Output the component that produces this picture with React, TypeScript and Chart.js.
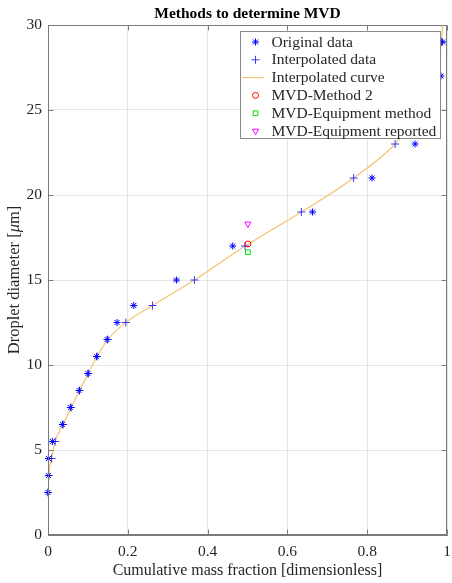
import React, { useEffect, useRef } from 'react';
import { Chart, registerables } from 'chart.js';
import { drawPoint } from 'chart.js/helpers';

Chart.register(...registerables);

// ---- Data ----
const originalX = [0.0, 0.001, 0.001, 0.011, 0.036, 0.056, 0.078, 0.100, 0.122, 0.148, 0.173, 0.215, 0.322, 0.463, 0.663, 0.812, 0.920, 0.962, 0.985, 0.989];
const originalY = [2.5, 3.5, 4.5, 5.5, 6.5, 7.5, 8.5, 9.5, 10.5, 11.5, 12.5, 13.5, 15, 17, 19, 21, 23, 25, 27, 29];

const interpX = [0.0, 0.002, 0.009, 0.018, 0.038, 0.058, 0.079, 0.101, 0.123, 0.150, 0.195, 0.262, 0.367, 0.494, 0.635, 0.766, 0.870, 0.935, 0.972, 0.986];
const interpY = [2.5, 3.5, 4.5, 5.5, 6.5, 7.5, 8.5, 9.5, 10.5, 11.5, 12.5, 13.5, 15, 17, 19, 21, 23, 25, 27, 29];

const curveX = [0.0, 0.002, 0.009, 0.018, 0.038, 0.058, 0.079, 0.101, 0.123, 0.150, 0.195, 0.262, 0.367, 0.494, 0.635, 0.766, 0.870, 0.935, 0.972, 0.986, 0.989];
const curveY = [2.35, 3.5, 4.5, 5.5, 6.5, 7.5, 8.5, 9.5, 10.5, 11.5, 12.5, 13.5, 15, 17, 19, 21, 23, 25, 27, 29, 30];

const mvdX = [0.501];
const method2Y = [17.12];
const equipMethodY = [16.63];
const equipReportedY = [18.3];

const xTickLabels = ['0', '0.2', '0.4', '0.6', '0.8', '1'];
const yTickLabels = ['0', '5', '10', '15', '20', '25', '30'];

const titleText = 'Methods to determine MVD';
const xTitleText = 'Cumulative mass fraction [dimensionless]';
const yTitleParts = ['Droplet diameter [', 'μ', 'm]'];

const legendLabels = [
  'Original data',
  'Interpolated data',
  'Interpolated curve',
  'MVD-Method 2',
  'MVD-Equipment method',
  'MVD-Equipment reported',
];

// ---- Styles ----
const FONT = "'Liberation Serif', 'Times New Roman', serif";
const TEXT = '#262626';
const AXIS = '#7a7a7a';
const GRID = '#e6e6e6';
const BLUE = '#0000ff';
const PLUS = '#3a3aff';
const ORANGE = '#f2c46e';
const RED = '#ff0000';
const GREEN = '#00e000';
const MAGENTA = '#ff00ff';

const pts = (xs: number[], ys: number[]) => xs.map((x, i) => ({ x, y: ys[i] }));

const legendStyles = [
  { kind: 'point', style: 'star', color: BLUE, radius: 3.5, rotation: 0 },
  { kind: 'point', style: 'cross', color: PLUS, radius: 4, rotation: 0 },
  { kind: 'line', style: '', color: ORANGE, radius: 0, rotation: 0 },
  { kind: 'point', style: 'circle', color: RED, radius: 3, rotation: 0 },
  { kind: 'point', style: 'rect', color: GREEN, radius: 3.3, rotation: 0 },
  { kind: 'point', style: 'triangle', color: MAGENTA, radius: 3.6, rotation: 180 },
];

const overlayPlugin = {
  id: 'overlay',
  afterDraw(chart: any) {
    const { ctx, chartArea: a, scales } = chart;
    ctx.save();
    const L = Math.round(a.left) + 0.5;
    const R = Math.round(a.right) - 0.5;
    const T = Math.round(a.top) + 0.5;
    const B = Math.round(a.bottom) - 0.5;

    // inward tick marks on all four sides
    ctx.strokeStyle = AXIS;
    ctx.lineWidth = 1;
    ctx.beginPath();
    scales.x.ticks.forEach((t: any) => {
      const px = Math.round(scales.x.getPixelForValue(t.value)) + 0.5;
      ctx.moveTo(px, B); ctx.lineTo(px, B - 5);
      ctx.moveTo(px, T); ctx.lineTo(px, T + 5);
    });
    scales.y.ticks.forEach((t: any) => {
      const py = Math.round(scales.y.getPixelForValue(t.value)) + 0.5;
      ctx.moveTo(L, py); ctx.lineTo(L + 5, py);
      ctx.moveTo(R, py); ctx.lineTo(R - 5, py);
    });
    ctx.stroke();
    // box
    ctx.strokeRect(L, T, R - L, B - T);

    // title
    ctx.fillStyle = '#000';
    ctx.font = `bold 15.5px ${FONT}`;
    ctx.textAlign = 'center';
    ctx.textBaseline = 'middle';
    ctx.fillText(titleText, (a.left + a.right) / 2, 14);

    // y-axis title with italic mu
    ctx.save();
    ctx.translate(15, (a.top + a.bottom) / 2);
    ctx.rotate(-Math.PI / 2);
    ctx.fillStyle = TEXT;
    ctx.textAlign = 'left';
    ctx.textBaseline = 'middle';
    const fonts = [`16.5px ${FONT}`, `italic 16.5px ${FONT}`, `16.5px ${FONT}`];
    let total = 0;
    const widths = yTitleParts.map((s, i) => { ctx.font = fonts[i]; const w = ctx.measureText(s).width; total += w; return w; });
    let x0 = -total / 2;
    yTitleParts.forEach((s, i) => { ctx.font = fonts[i]; ctx.fillText(s, x0, 0); x0 += widths[i]; });
    ctx.restore();

    // legend
    const bw = 200, bh = 107;
    const bx = Math.round(a.right - 7 - bw) + 0.5;
    const by = Math.round(a.top + 6) + 0.5;
    ctx.fillStyle = '#ffffff';
    ctx.fillRect(bx, by, bw, bh);
    ctx.strokeStyle = '#8a8a8a';
    ctx.lineWidth = 1;
    ctx.strokeRect(bx, by, bw, bh);
    ctx.font = `15.5px ${FONT}`;
    ctx.textAlign = 'left';
    ctx.textBaseline = 'middle';
    legendLabels.forEach((label, i) => {
      const y = by + 10.5 + i * 17.8;
      const st = legendStyles[i];
      if (st.kind === 'line') {
        ctx.strokeStyle = st.color;
        ctx.lineWidth = 1.2;
        ctx.beginPath();
        ctx.moveTo(bx + 2, y);
        ctx.lineTo(bx + 23, y);
        ctx.stroke();
      } else {
        ctx.strokeStyle = st.color;
        ctx.fillStyle = 'rgba(0,0,0,0)';
        ctx.lineWidth = 1;
        drawPoint(ctx, { pointStyle: st.style, radius: st.radius, rotation: st.rotation, borderWidth: 1 } as any, bx + 15, y);
      }
      ctx.fillStyle = TEXT;
      ctx.fillText(label, bx + 31, y + 0.5);
    });
    ctx.restore();
  },
};

export default function App() {
  const ref = useRef<HTMLCanvasElement | null>(null);
  useEffect(() => {
    if (!ref.current) return;
    const chart = new Chart(ref.current, {
      type: 'scatter',
      data: {
        datasets: [
          {
            label: legendLabels[5],
            data: pts(mvdX, equipReportedY),
            pointStyle: 'triangle',
            rotation: 180,
            radius: 3.6,
            borderColor: MAGENTA,
            backgroundColor: 'rgba(0,0,0,0)',
            borderWidth: 1,
            clip: false,
          } as any,
          {
            label: legendLabels[4],
            data: pts(mvdX, equipMethodY),
            pointStyle: 'rect',
            radius: 3.3,
            borderColor: GREEN,
            backgroundColor: 'rgba(0,0,0,0)',
            borderWidth: 1,
            clip: false,
          } as any,
          {
            label: legendLabels[3],
            data: pts(mvdX, method2Y),
            pointStyle: 'circle',
            radius: 3,
            borderColor: RED,
            backgroundColor: 'rgba(0,0,0,0)',
            borderWidth: 1,
            clip: false,
          } as any,
          {
            label: legendLabels[0],
            data: pts(originalX, originalY),
            pointStyle: 'star',
            radius: 3.5,
            borderColor: BLUE,
            backgroundColor: BLUE,
            borderWidth: 1,
            clip: false,
          } as any,
          {
            label: legendLabels[1],
            data: pts(interpX, interpY),
            pointStyle: 'cross',
            radius: 4,
            borderColor: PLUS,
            backgroundColor: PLUS,
            borderWidth: 1,
            clip: false,
          } as any,
          {
            label: legendLabels[2],
            data: pts(curveX, curveY),
            showLine: true,
            pointRadius: 0,
            borderColor: ORANGE,
            borderWidth: 1.2,
            cubicInterpolationMode: 'monotone',
            fill: false,
          } as any,
        ],
      },
      options: {
        responsive: false,
        animation: false,
        events: [],
        layout: { padding: { top: 25, right: 2, left: 0, bottom: 0 } },
        plugins: {
          legend: { display: false },
          title: { display: false },
          tooltip: { enabled: false },
        },
        scales: {
          x: {
            type: 'linear',
            min: 0,
            max: 1,
            ticks: {
              stepSize: 0.2,
              padding: 8,
              color: TEXT,
              font: { family: FONT, size: 15.5 },
              maxRotation: 0,
              callback: (_v: any, i: number) => xTickLabels[i],
            },
            grid: { color: GRID, drawTicks: false },
            border: { display: true, color: AXIS },
            title: {
              display: true,
              text: xTitleText,
              color: TEXT,
              font: { family: FONT, size: 16 },
              padding: { top: 0, bottom: 3 },
            },
            afterFit: (scale: any) => {
              scale.height = 48;
              scale.paddingLeft = 0;
              scale.paddingRight = 0;
            },
          },
          y: {
            type: 'linear',
            min: 0,
            max: 30,
            ticks: {
              stepSize: 5,
              padding: 6,
              color: TEXT,
              font: { family: FONT, size: 15.5 },
              callback: (_v: any, i: number) => yTickLabels[i],
            },
            grid: { color: GRID, drawTicks: false },
            border: { display: true, color: AXIS },
            afterFit: (scale: any) => {
              scale.width = 48;
              scale.paddingTop = 0;
              scale.paddingBottom = 0;
            },
          },
        },
      } as any,
      plugins: [overlayPlugin],
    });
    return () => chart.destroy();
  }, []);

  return (
    <div style={{ position: 'absolute', left: 0, top: 0, width: 452, height: 583, background: '#fff' }}>
      <canvas ref={ref} width={452} height={583} style={{ display: 'block' }} />
    </div>
  );
}
